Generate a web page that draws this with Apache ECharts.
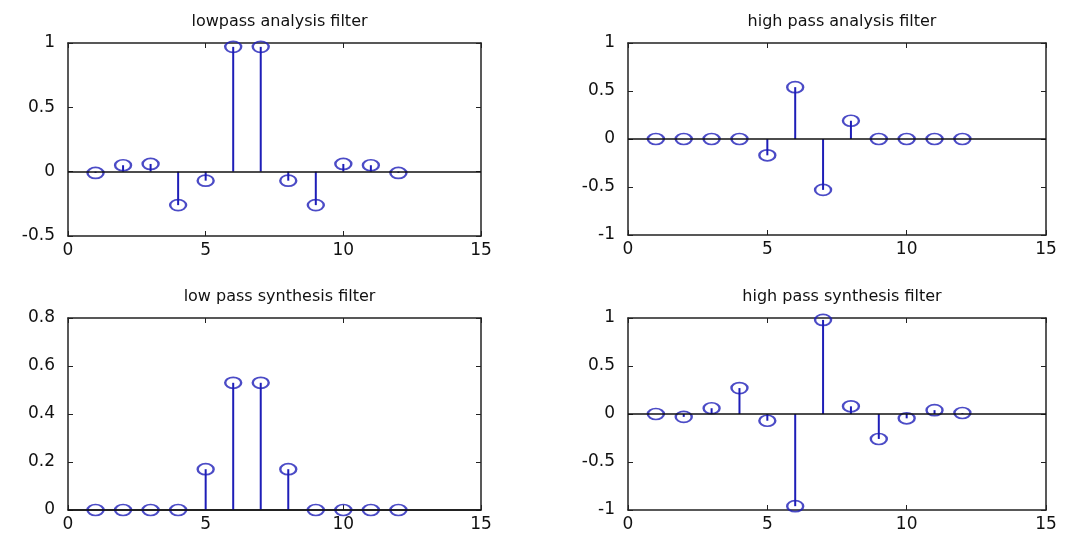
<!DOCTYPE html>
<html>
<head>
<meta charset="utf-8">
<script src="https://cdn.jsdelivr.net/npm/echarts@6/dist/echarts.min.js"></script>
<style>
  html, body { margin: 0; padding: 0; background: #fff; }
  #chart { width: 1075px; height: 538px; }
</style>
</head>
<body>
<div id="chart"></div>
<script>
// sample index n = 1..12
const n = [1, 2, 3, 4, 5, 6, 7, 8, 9, 10, 11, 12];
const lowAnalysis = [-0.01, 0.05, 0.06, -0.26, -0.07, 0.97, 0.97, -0.07, -0.26, 0.06, 0.05, -0.01];
const highAnalysis = [0, 0, 0, 0, -0.17, 0.54, -0.53, 0.19, 0, 0, 0, 0];
const lowSynthesis = [0, 0, 0, 0, 0.17, 0.53, 0.53, 0.17, 0, 0, 0, 0];
const highSynthesis = [0, -0.03, 0.06, 0.27, -0.07, -0.96, 0.98, 0.08, -0.26, -0.045, 0.04, 0.01];

const titles = ["lowpass analysis filter", "high pass analysis filter",
  "low pass synthesis filter", "high pass synthesis filter"];
const yMin = [-0.5, -1, 0, -1];
const yMax = [1, 1, 0.8, 1];
const yStep = [0.5, 0.5, 0.2, 0.5];
const xTicks = [0, 15, 5]; // min, max, interval

const values = [lowAnalysis, highAnalysis, lowSynthesis, highSynthesis];

// plot boxes
const boxes = [
  { left: 68, top: 43, width: 413, height: 193 },
  { left: 628, top: 43, width: 418, height: 192 },
  { left: 68, top: 318, width: 413, height: 192 },
  { left: 628, top: 318, width: 418, height: 192 }
];

const blue = "#1e1eb8";
const font = "DejaVu Sans";

let grid = [], xAxis = [], yAxis = [], series = [], title = [];

boxes.forEach((b, i) => {
  grid.push(b);
  title.push({
    text: titles[i],
    left: b.left + b.width / 2,
    top: i < 2 ? 9 : 284,
    textAlign: "center",
    textStyle: { fontFamily: font, fontSize: 16, fontWeight: "normal", color: "#111" }
  });

  const line = { show: true, onZero: false, lineStyle: { color: "#222", width: 1.5 } };
  const tick = { show: true, inside: true, length: 5, lineStyle: { color: "#222" } };

  ["bottom", "top"].forEach(pos => {
    xAxis.push({
      gridIndex: i, type: "value", position: pos,
      min: xTicks[0], max: xTicks[1], interval: xTicks[2],
      axisLine: line, axisTick: tick, splitLine: { show: false },
      axisLabel: { show: pos === "bottom", margin: 6, fontFamily: font, fontSize: 17, color: "#111" }
    });
  });
  ["left", "right"].forEach(pos => {
    yAxis.push({
      gridIndex: i, type: "value", position: pos,
      min: yMin[i], max: yMax[i], interval: yStep[i],
      axisLine: line, axisTick: tick, splitLine: { show: false },
      axisLabel: { show: pos === "left", margin: 13, fontFamily: font, fontSize: 17, color: "#111" }
    });
  });

  const pts = n.map((x, k) => [x, values[i][k]]);

  // stems
  series.push({
    type: "custom",
    xAxisIndex: i * 2, yAxisIndex: i * 2,
    data: pts,
    encode: { x: 0, y: 1 },
    renderItem: function (params, api) {
      const p0 = api.coord([api.value(0), 0]);
      const p1 = api.coord([api.value(0), api.value(1)]);
      return {
        type: "line",
        shape: { x1: p0[0], y1: p0[1], x2: p1[0], y2: p1[1] },
        style: { stroke: blue, lineWidth: 2 }
      };
    },
    markLine: {
      silent: true, symbol: "none", animation: false,
      label: { show: false },
      lineStyle: { color: "#111", width: 1.5, type: "solid" },
      data: [{ yAxis: 0 }]
    },
    z: 2
  });

  // markers
  series.push({
    type: "scatter",
    xAxisIndex: i * 2, yAxisIndex: i * 2,
    data: pts,
    symbol: "circle",
    symbolSize: [16, 11],
    itemStyle: { color: "rgba(0,0,0,0)", borderColor: blue, borderWidth: 2 },
    z: 3
  });
});

const chart = echarts.init(document.getElementById("chart"));
chart.setOption({
  animation: false,
  backgroundColor: "#fff",
  title: title,
  grid: grid,
  xAxis: xAxis,
  yAxis: yAxis,
  series: series
});
</script>
</body>
</html>
